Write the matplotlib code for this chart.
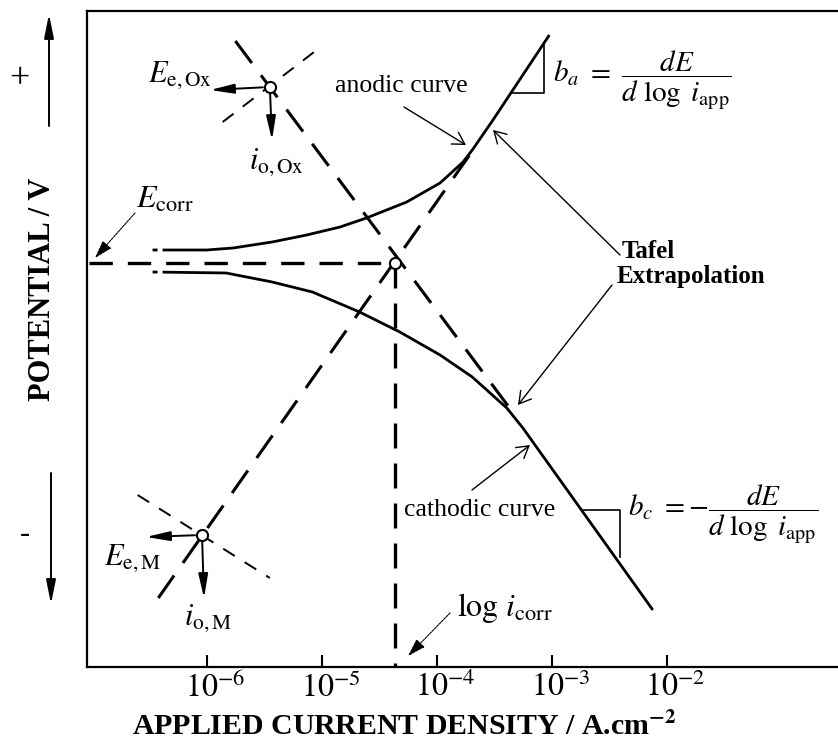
import matplotlib.pyplot as plt
from matplotlib.transforms import ScaledTranslation

plt.rcParams['font.family'] = ['Liberation Serif', 'DejaVu Serif']
plt.rcParams['mathtext.fontset'] = 'stix'

# decades shown on the current axis (A cm-2)
tick_exp = [-6, -5, -4, -3, -2]

# polarization curves: log10(i) vs potential (V, rel. to Ecorr)
anodic_logi = [-6.47, -6.00, -5.77, -5.43, -5.13, -4.84, -4.61, -4.26, -3.97,
               -3.77, -3.69, -3.51, -3.02]
anodic_E = [0.013, 0.013, 0.015, 0.021, 0.028, 0.036, 0.045, 0.061, 0.080,
            0.101, 0.113, 0.143, 0.228]
cathodic_logi = [-6.47, -5.83, -5.43, -5.08, -4.67, -4.32, -3.97, -3.69, -3.39,
                 -3.25, -2.12]
cathodic_E = [-0.009, -0.010, -0.019, -0.029, -0.049, -0.069, -0.092, -0.114, -0.145,
              -0.165, -0.347]

# Tafel extrapolations (end points)
anodic_tafel_logi = [-6.42, -3.64]
anodic_tafel_E = [-0.335, 0.120]
cathodic_tafel_logi = [-5.75, -3.32]
cathodic_tafel_E = [0.222, -0.152]

# reverse branches through the two equilibrium points
ox_branch_logi = [-5.86, -5.02]
ox_branch_E = [0.141, 0.215]
m_branch_logi = [-6.60, -5.45]
m_branch_E = [-0.232, -0.315]

log_icorr, E_corr = -4.36, 0.0
log_io_ox, E_e_ox = -5.45, 0.176
log_io_m, E_e_m = -6.04, -0.272

x_min, x_max = -7.04, -0.51
y_min, y_max = -0.404, 0.252

W, H = 838, 741
fig = plt.figure(figsize=(W / 100, H / 100), dpi=100)
ax = fig.add_axes([87 / W, 1 - 667 / H, (W - 87) / W, 656 / H])
ax.set_xlim(x_min, x_max)
ax.set_ylim(y_min, y_max)


def fx(x, y):
    # pixel position in the picture -> figure fraction
    return (x / W, 1 - y / H)


# curves
ax.plot(anodic_logi, anodic_E, color='black', lw=2.0, ls=(0, (1.8, 1.8, 300, 1)),
        solid_capstyle='butt', solid_joinstyle='round')
ax.plot(cathodic_logi, cathodic_E, color='black', lw=2.0, ls=(0, (1.8, 1.8, 300, 1)),
        solid_capstyle='butt', solid_joinstyle='round')

# tafel lines
ax.plot(anodic_tafel_logi, anodic_tafel_E, color='black', lw=2.2, ls=(0, (9, 5)))
ax.plot(cathodic_tafel_logi, cathodic_tafel_E, color='black', lw=2.2, ls=(0, (9, 5)))
ax.plot(ox_branch_logi, ox_branch_E, color='black', lw=1.4, ls=(0, (7, 6)))
ax.plot(m_branch_logi, m_branch_E, color='black', lw=1.4, ls=(0, (7, 6)))

# Ecorr and icorr lines
ax.plot([x_min + 0.02, log_icorr], [E_corr, E_corr], color='black', lw=2.4, ls=(0, (7, 4.5)))
ax.plot([log_icorr, log_icorr], [E_corr, y_min], color='black', lw=2.4, ls=(0, (7.5, 4.5)))

# equilibrium / corrosion points
ax.plot([log_io_ox, log_io_m, log_icorr], [E_e_ox, E_e_m, E_corr], 'o', ms=8,
        mfc='white', mec='black', mew=1.5, zorder=5)

# axes styling
for s in ['left', 'top', 'bottom']:
    ax.spines[s].set_linewidth(1.6)
ax.spines['right'].set_visible(False)
ax.set_yticks([])
ax.set_xticks(tick_exp)
ax.set_xticklabels([f'$10^{{{e}}}$' for e in tick_exp], fontsize=23)
ax.tick_params(axis='x', direction='in', length=9, width=1.5, pad=4)
shift = ScaledTranslation(9 / 100, 0, fig.dpi_scale_trans)
for lab in ax.get_xticklabels():
    lab.set_transform(lab.get_transform() + shift)

fig.text(*fx(404, 727), 'APPLIED CURRENT DENSITY / A.cm$^{\\mathbf{-2}}$', fontsize=21.5,
         fontweight='bold', ha='center', va='center')
fig.text(*fx(43, 289), 'POTENTIAL / V', fontsize=22, fontweight='bold', rotation=90,
         ha='center', va='center')
fig.text(*fx(19, 80), '+', fontsize=26, ha='center', va='center')
fig.text(*fx(25, 535), '-', fontsize=22, ha='center', va='center')

big = dict(arrowstyle='-|>,head_length=0.9,head_width=0.18', lw=1.4, color='black',
           mutation_scale=16)
ax.annotate('', xy=fx(49, 14), xycoords='figure fraction', xytext=fx(49, 126),
            textcoords='figure fraction', arrowprops=dict(big, shrinkA=0, shrinkB=0))
ax.annotate('', xy=fx(51, 604), xycoords='figure fraction', xytext=fx(51, 473),
            textcoords='figure fraction', arrowprops=dict(big, shrinkA=0, shrinkB=0))

# arrows from the equilibrium points
ax.annotate('', xy=fx(210, 90), xycoords='figure fraction', xytext=(log_io_ox, E_e_ox),
            textcoords='data', arrowprops=dict(big, shrinkA=5, shrinkB=0))
ax.annotate('', xy=fx(272, 140), xycoords='figure fraction', xytext=(log_io_ox, E_e_ox),
            textcoords='data', arrowprops=dict(big, shrinkA=5, shrinkB=0))
ax.annotate('', xy=fx(146, 537), xycoords='figure fraction', xytext=(log_io_m, E_e_m),
            textcoords='data', arrowprops=dict(big, shrinkA=5, shrinkB=0))
ax.annotate('', xy=fx(204, 598), xycoords='figure fraction', xytext=(log_io_m, E_e_m),
            textcoords='data', arrowprops=dict(big, shrinkA=5, shrinkB=0))

fig.text(*fx(180, 75), r'$E_{\mathrm{e,Ox}}$', fontsize=22, ha='center', va='center')
fig.text(*fx(277, 162), r'$i_{\mathrm{o,Ox}}$', fontsize=22, ha='center', va='center')
fig.text(*fx(133, 558), r'$E_{\mathrm{e,M}}$', fontsize=22, ha='center', va='center')
fig.text(*fx(208, 618), r'$i_{\mathrm{o,M}}$', fontsize=22, ha='center', va='center')
fig.text(*fx(165, 200), r'$E_{\mathrm{corr}}$', fontsize=23, ha='center', va='center')
fig.text(*fx(505, 608), r'$\log\,i_{\mathrm{corr}}$', fontsize=23, ha='center', va='center')

thin = dict(arrowstyle='-|>,head_length=0.8,head_width=0.25', lw=0.8, color='black',
            mutation_scale=14, ls=(0, (2, 1)), shrinkA=0, shrinkB=0)
ax.annotate('', xy=fx(95, 258), xycoords='figure fraction', xytext=fx(135, 213),
            textcoords='figure fraction', arrowprops=thin)
ax.annotate('', xy=fx(408, 656), xycoords='figure fraction', xytext=fx(450, 613),
            textcoords='figure fraction', arrowprops=thin)

# curve labels
fig.text(*fx(401, 86), 'anodic curve', fontsize=18.5, ha='center', va='center')
fig.text(*fx(480, 510), 'cathodic curve', fontsize=18.5, ha='center', va='center')
fig.text(*fx(622, 251), 'Tafel', fontsize=18, fontweight='bold', ha='left', va='center')
fig.text(*fx(617, 276), 'Extrapolation', fontsize=18, fontweight='bold', ha='left', va='center')

open_arr = dict(arrowstyle='->,head_length=0.6,head_width=0.35', lw=1.0, color='black',
                mutation_scale=14, shrinkA=0, shrinkB=0)
ax.annotate('', xy=fx(466, 145), xycoords='figure fraction', xytext=fx(404, 107),
            textcoords='figure fraction', arrowprops=open_arr)
ax.annotate('', xy=fx(530, 445), xycoords='figure fraction', xytext=fx(472, 490),
            textcoords='figure fraction', arrowprops=open_arr)
ax.annotate('', xy=fx(493, 130), xycoords='figure fraction', xytext=fx(620, 255),
            textcoords='figure fraction', arrowprops=open_arr)
ax.annotate('', xy=fx(518, 405), xycoords='figure fraction', xytext=fx(612, 285),
            textcoords='figure fraction', arrowprops=open_arr)

# slope triangles
tri_a = [fx(513, 93), fx(544, 93), fx(544, 43)]
tri_c = [fx(583, 510), fx(620, 510), fx(620, 557)]
for tri in (tri_a, tri_c):
    xs = [p[0] for p in tri]
    ys = [p[1] for p in tri]
    ax.plot(xs, ys, color='black', lw=1.2, transform=fig.transFigure, clip_on=False)

fig.text(*fx(553, 80), r'$b_a\ =\ \dfrac{dE}{d\ \log\ i_{\mathrm{app}}}$', fontsize=21,
         ha='left', va='center')
fig.text(*fx(628, 514), r'$b_c\ =-\dfrac{dE}{d\ \log\ i_{\mathrm{app}}}$', fontsize=21,
         ha='left', va='center')

fig.savefig('out.png', dpi=100)
